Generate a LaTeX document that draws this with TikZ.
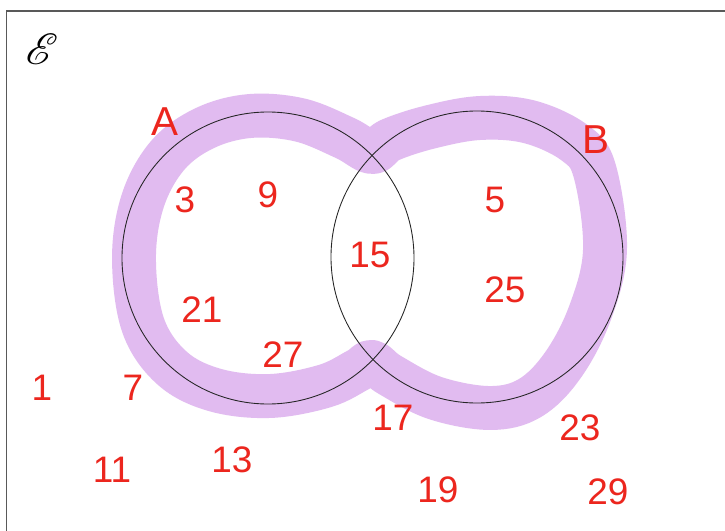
\documentclass[tikz,border=0pt]{standalone}
\usepackage{fontspec}
\setmainfont{Liberation Sans}
\usepackage{mathrsfs}
\usetikzlibrary{positioning}
\definecolor{penred}{RGB}{236,38,30}
\definecolor{highlight}{RGB}{225,187,240}
\tikzset{
  universe/.style={draw=black!65, line width=1pt},
  setcircle/.style={draw=black!85, line width=0.5pt},
  marker/.style={draw=highlight, line width=25pt, line cap=round, line join=round},
  elem/.style={text=penred, font=\fontsize{21}{21}\selectfont, inner sep=0pt},
  setname/.style={text=penred, font=\fontsize{23}{23}\selectfont, inner sep=0pt}
}

\begin{document}
\begin{tikzpicture}[x=0.02cm,y=-0.02cm]
  \useasboundingbox (0,0) rectangle (725,531);
  \clip (0,0) rectangle (725,531);
  \fill[white] (0,0) rectangle (725,531);
  \draw[universe] (6.5,560) -- (6.5,11) -- (760,11);
  \node[inner sep=0pt, font=\fontsize{27}{27}\selectfont] (univ) at (42,49) {$\mathscr{E}$};

  \draw[marker] plot[smooth cycle, tension=0.6] coordinates {
    (372,152) (345,138) (300,120) (250,116) (205,128) (168,155) (143,200)
    (134,258) (143,325) (172,368) (215,390) (270,396) (325,386) (358,370)
    (372,362) (390,375) (435,398) (490,408) (530,398) (563,365) (590,313)
    (605,250) (595,172) (575,143) (530,122) (480,118) (430,127) (390,140)};

  \draw[setcircle] (268,258) circle[radius=146];
  \draw[setcircle] (477,257) circle[radius=146];

  \node[setname] (labA) at (165,122) {A};
  \node[setname] (labB) at (596,140) {B};

  \node[elem] (n3) at (185,200) {3};
  \node[elem] (n9) at (268,195) {9};
  \node[elem] (n21) at (202,310) {21};
  \node[elem] (n27) at (283,355) {27};
  \node[elem] (n15) at (370,255) {15};
  \node[elem] (n5) at (495,200) {5};
  \node[elem] (n25) at (505,290) {25};
  \node[elem] (n1) at (42,388) {1};
  \node[elem] (n7) at (133,388) {7};
  \node[elem] (n17) at (393,418) {17};
  \node[elem] (n23) at (580,428) {23};
  \node[elem] (n11) at (112,470) {11};
  \node[elem] (n13) at (232,460) {13};
  \node[elem] (n19) at (438,490) {19};
  \node[elem] (n29) at (608,492) {29};
\end{tikzpicture}
\end{document}
